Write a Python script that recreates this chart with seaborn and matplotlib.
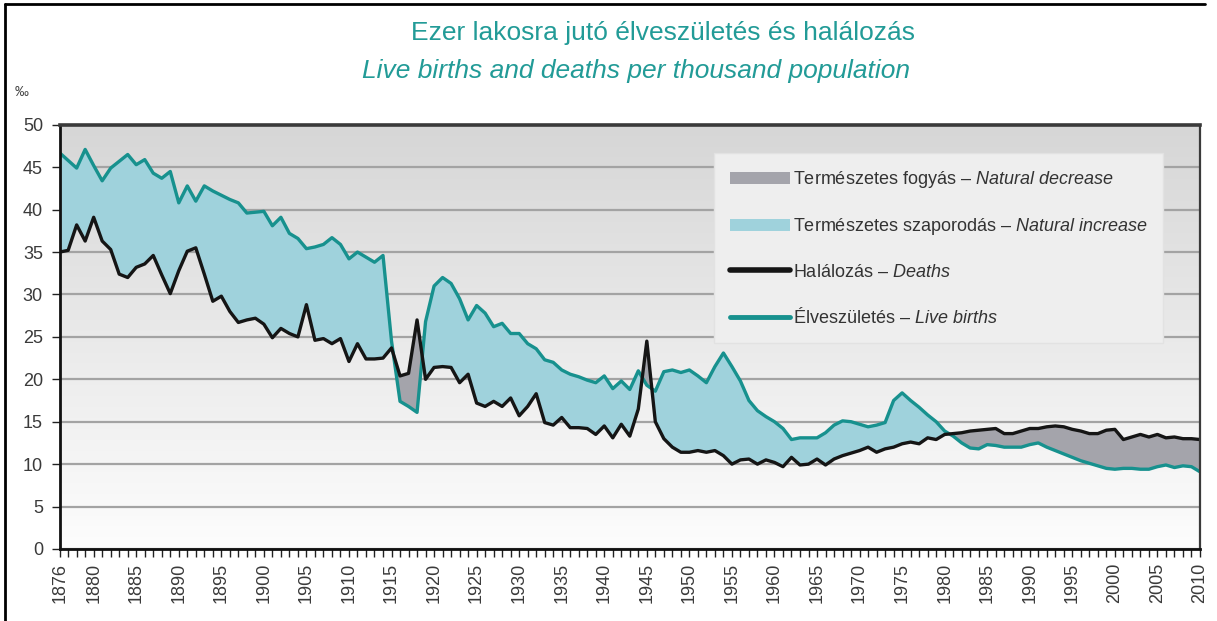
import numpy as np
import pandas as pd
import matplotlib.pyplot as plt
import seaborn as sns
from matplotlib import font_manager
from matplotlib.colors import LinearSegmentedColormap
from matplotlib.patches import Patch
from matplotlib.lines import Line2D

# Yearly values (per thousand population)
years = list(range(1876, 2011))
births = [
    46.7, 45.8, 44.9, 47.1, 45.2, 43.4, 44.9, 45.7, 46.5, 45.3,
    45.9, 44.3, 43.7, 44.5, 40.8, 42.8, 41.0, 42.8, 42.2, 41.7,
    41.2, 40.8, 39.6, 39.7, 39.8, 38.1, 39.1, 37.2, 36.6, 35.4,
    35.6, 35.9, 36.7, 35.9, 34.2, 35.0, 34.4, 33.8, 34.6, 24.5,
    17.4, 16.8, 16.1, 26.8, 31.0, 32.0, 31.3, 29.5, 27.0, 28.7,
    27.8, 26.2, 26.6, 25.4, 25.4, 24.2, 23.6, 22.3, 22.0, 21.1,
    20.6, 20.3, 19.9, 19.6, 20.4, 18.9, 19.8, 18.8, 21.0, 19.3,
    18.6, 20.9, 21.1, 20.8, 21.1, 20.4, 19.6, 21.5, 23.1, 21.5,
    19.8, 17.5, 16.3, 15.6, 15.0, 14.2, 12.9, 13.1, 13.1, 13.1,
    13.7, 14.6, 15.1, 15.0, 14.7, 14.4, 14.6, 14.9, 17.5, 18.4,
    17.5, 16.7, 15.8, 15.0, 13.9, 13.3, 12.5, 11.9, 11.8, 12.3,
    12.2, 12.0, 12.0, 12.0, 12.3, 12.5, 12.0, 11.6, 11.2, 10.8,
    10.4, 10.1, 9.8, 9.5, 9.4, 9.5, 9.5, 9.4, 9.4, 9.7,
    9.9, 9.6, 9.8, 9.7, 9.1,
]
deaths = [
    35.0, 35.2, 38.2, 36.3, 39.1, 36.3, 35.3, 32.4, 32.0, 33.2,
    33.6, 34.6, 32.3, 30.1, 32.8, 35.1, 35.5, 32.4, 29.2, 29.8,
    28.0, 26.7, 27.0, 27.2, 26.5, 24.9, 26.0, 25.4, 25.0, 28.8,
    24.6, 24.8, 24.2, 24.8, 22.1, 24.2, 22.4, 22.4, 22.5, 23.7,
    20.4, 20.7, 27.0, 20.0, 21.4, 21.5, 21.4, 19.6, 20.6, 17.2,
    16.8, 17.4, 16.8, 17.8, 15.7, 16.8, 18.3, 14.9, 14.6, 15.5,
    14.3, 14.3, 14.2, 13.5, 14.5, 13.1, 14.7, 13.3, 16.5, 24.5,
    15.0, 13.0, 12.0, 11.4, 11.4, 11.6, 11.4, 11.6, 11.0, 10.0,
    10.5, 10.6, 10.0, 10.5, 10.2, 9.7, 10.8, 9.9, 10.0, 10.6,
    9.9, 10.6, 11.0, 11.3, 11.6, 12.0, 11.4, 11.8, 12.0, 12.4,
    12.6, 12.4, 13.1, 12.9, 13.5, 13.6, 13.7, 13.9, 14.0, 14.1,
    14.2, 13.6, 13.6, 13.9, 14.2, 14.2, 14.4, 14.5, 14.4, 14.1,
    13.9, 13.6, 13.6, 14.0, 14.1, 12.9, 13.2, 13.5, 13.2, 13.5,
    13.1, 13.2, 13.0, 13.0, 12.9,
]
tick_years = [1876] + list(range(1880, 2011, 5))
y_ticks = list(range(0, 51, 5))

legend_labels = [
    'Természetes fogyás – $\\mathit{Natural\\ decrease}$',
    'Természetes szaporodás – $\\mathit{Natural\\ increase}$',
    'Halálozás – $\\mathit{Deaths}$',
    'Élveszületés – $\\mathit{Live\\ births}$',
]

teal = '#17918e'
dark = '#151515'
light_blue = '#9fd2dc'
grey_fill = '#a4a4ab'

df = pd.DataFrame({'year': years, 'births': births, 'deaths': deaths})

sns.set_theme(style='white')
installed = {f.name for f in font_manager.fontManager.ttflist}
font = 'Liberation Sans Narrow' if 'Liberation Sans Narrow' in installed else 'Liberation Sans'
plt.rcParams['font.family'] = [font, 'DejaVu Sans']
plt.rcParams['mathtext.fontset'] = 'custom'
plt.rcParams['mathtext.rm'] = font
plt.rcParams['mathtext.it'] = font + ':italic'

fig = plt.figure(figsize=(12.17, 6.21), dpi=100)
ax = fig.add_axes([0.049, 0.116, 0.937, 0.683])

# grey gradient background of the plot area
bg = LinearSegmentedColormap.from_list('bg', ['#d6d6d6', '#fdfdfd'])
ax.imshow(np.linspace(0, 1, 256).reshape(-1, 1), cmap=bg, extent=[0, 1, 0, 1],
          transform=ax.transAxes, aspect='auto', zorder=0)

b = np.array(births)
d = np.array(deaths)
ax.fill_between(years, b, d, where=b >= d, interpolate=True,
                color=light_blue, linewidth=0, zorder=2)
ax.fill_between(years, b, d, where=b < d, interpolate=True,
                color=grey_fill, linewidth=0, zorder=2)

sns.lineplot(data=df, x='year', y='births', color=teal, linewidth=2.4, ax=ax, zorder=3)
sns.lineplot(data=df, x='year', y='deaths', color=dark, linewidth=2.4, ax=ax, zorder=3)

ax.set_xlim(1876, 2010)
ax.set_ylim(0, 50)
ax.set_xlabel('')
ax.set_ylabel('')
ax.set_xticks(tick_years)
ax.set_xticklabels([str(t) for t in tick_years], rotation=90)
ax.set_xticks(years, minor=True)
ax.set_yticks(y_ticks)
ax.grid(axis='y', color='#a3a3a3', linewidth=1.6)
ax.grid(axis='x', visible=False)

ax.tick_params(axis='x', which='both', bottom=True, direction='out',
               length=6, width=1, color='#222222')
ax.tick_params(axis='x', which='major', labelsize=13, labelcolor='#3a3a3a', pad=4)
ax.tick_params(axis='y', left=True, direction='out', length=6, width=1,
               color='#222222', labelsize=13, labelcolor='#3a3a3a', pad=6)

for side, lw, col in [('top', 2.6, '#3a3a3a'), ('left', 2.0, '#111111'),
                      ('bottom', 2.0, '#111111'), ('right', 1.6, '#3a3a3a')]:
    ax.spines[side].set_visible(True)
    ax.spines[side].set_linewidth(lw)
    ax.spines[side].set_color(col)
    ax.spines[side].set_zorder(4)

handles = [
    Patch(facecolor=grey_fill, edgecolor='none'),
    Patch(facecolor=light_blue, edgecolor='none'),
    Line2D([], [], color=dark, linewidth=4),
    Line2D([], [], color=teal, linewidth=3.5),
]
leg = ax.legend(handles, legend_labels, loc='upper left', bbox_to_anchor=(0.566, 0.955),
                fontsize=13, handlelength=3.3, handleheight=0.6, handletextpad=0.15,
                labelspacing=1.45, borderpad=0.9, frameon=True, fancybox=False,
                framealpha=1, facecolor='#eeeeee', edgecolor='#e2e2e2',
                labelcolor='#333333')
leg.set_zorder(5)

fig.text(0.545, 0.947, 'Ezer lakosra jutó élveszületés és halálozás',
         ha='center', va='center', color='#229b97', fontsize=19)
fig.text(0.523, 0.886, 'Live births and deaths per thousand population',
         ha='center', va='center', color='#229b97', fontsize=19, style='italic')
fig.text(0.018, 0.852, '‰', ha='center', va='center', color='#444444', fontsize=10)

# black frame lines along the left and top edges
fig.add_artist(Line2D([0.004, 0.004], [0.0, 0.994], color='black', linewidth=2,
                      transform=fig.transFigure))
fig.add_artist(Line2D([0.004, 0.99], [0.994, 0.994], color='black', linewidth=2,
                      transform=fig.transFigure))

fig.savefig('out.png', dpi=100)
